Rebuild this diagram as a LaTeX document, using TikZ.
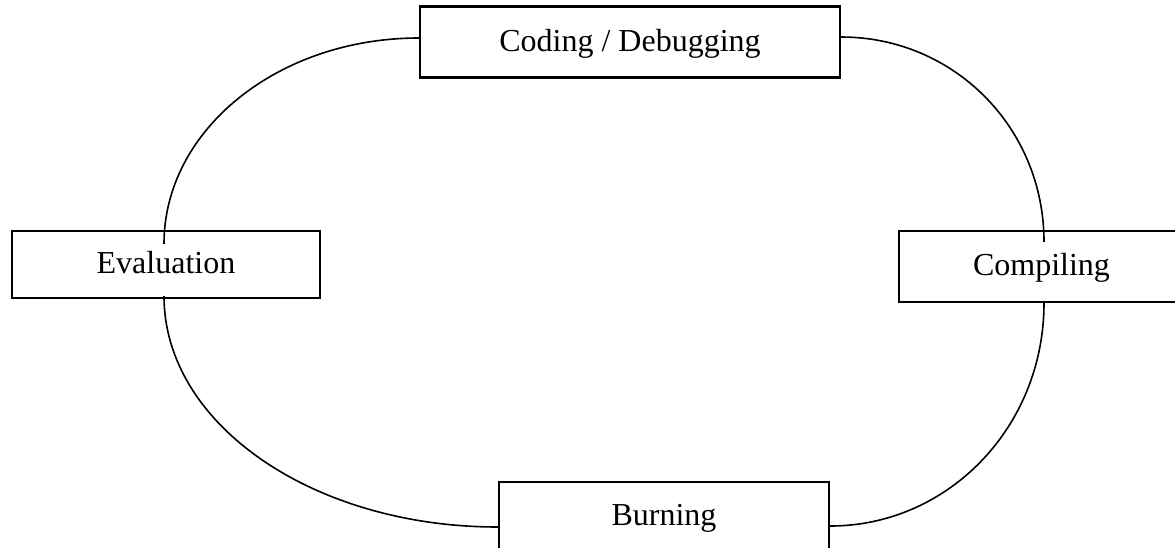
\documentclass[tikz,border=0pt]{standalone}
\usepackage{fontspec}
\setmainfont{Liberation Serif}
\begin{document}
\begin{tikzpicture}[x=1pt,y=-1pt,
  stagebox/.style={draw=black,line width=2.2pt,rectangle,inner sep=0pt,
    text height=21pt,text depth=3pt,font=\fontsize{32}{38}\selectfont},
  loopline/.style={draw=black,line width=1.6pt}]
\clip (0,0) rectangle (1175,547);
\useasboundingbox (0,0) rectangle (1175,547);
\node[stagebox,minimum width=420pt,minimum height=71pt] (cod) at (630,42) {Coding / Debugging};
\node[stagebox,minimum width=308pt,minimum height=67pt] (eval) at (166,264.5) {Evaluation};
\node[stagebox,minimum width=285pt,minimum height=71pt] (comp) at (1041.5,266.5) {Compiling};
\node[stagebox,minimum width=330pt,minimum height=68pt] (burn) at (664,516) {Burning};
\draw[loopline] ([yshift=4pt]cod.west) .. controls +(-141,0) and +(0,-114) .. ([xshift=-2pt,yshift=-14pt]eval.north);
\draw[loopline] ([yshift=5pt]cod.east) .. controls +(113,0) and +(0,-114) .. ([xshift=2.5pt,yshift=-12pt]comp.north);
\draw[loopline] ([xshift=-2pt,yshift=3pt]eval.south) .. controls +(0,128) and +(-185,0) .. ([yshift=-11pt]burn.west);
\draw[loopline] ([xshift=2.5pt]comp.south) .. controls +(0,124) and +(118,0) .. ([yshift=-10pt]burn.east);
\end{tikzpicture}
\end{document}
